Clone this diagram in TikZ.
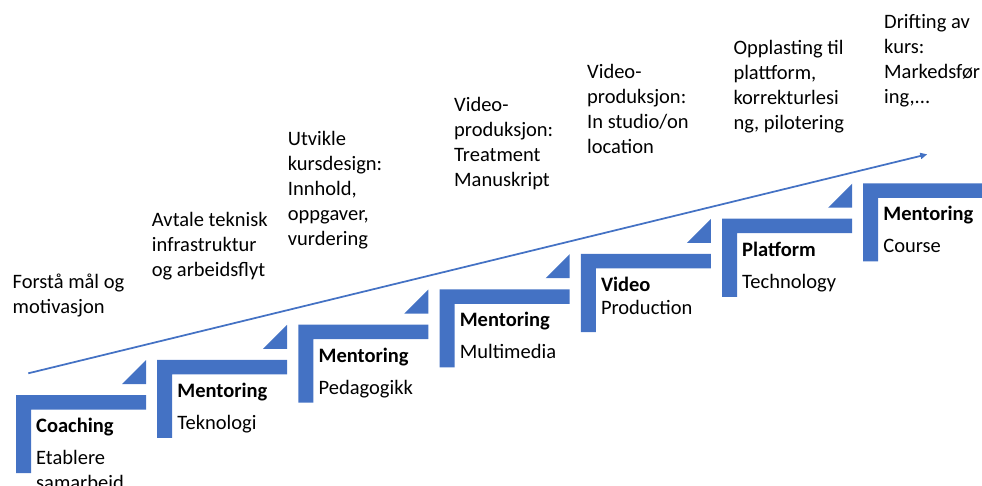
\documentclass[tikz,border=0pt]{standalone}
\usepackage{fontspec}
\setmainfont{Carlito}
\usetikzlibrary{arrows.meta}
\definecolor{stepblue}{HTML}{4472C4}
\begin{document}
\begin{tikzpicture}[x=1pt,y=-1pt,
  stepshape/.style={fill=stepblue,draw=none},
  headtxt/.style={anchor=base west,inner sep=0pt,font=\fontsize{20.5}{25}\selectfont\bfseries},
  subtxt/.style={anchor=base west,inner sep=0pt,align=left,font=\fontsize{20.5}{25}\selectfont},
  toptxt/.style={anchor=base west,inner sep=0pt,align=left,font=\fontsize{20.5}{25}\selectfont},
  flow/.style={draw=stepblue,line width=1.75pt,-{Triangle[length=7pt,width=6pt]}}]
\useasboundingbox (0,0) rectangle (982,486);
% steps
\foreach \i in {0,...,6} {
  \pgfmathsetmacro\L{16+141.2*\i}
  \pgfmathsetmacro\T{395-35.25*\i}
  \fill[stepshape] (\L,\T) -- ++(130,0) -- ++(0,14.5) -- ++(-115,0) -- ++(0,63.5) -- ++(-15,0) -- cycle;
}
\foreach \i in {0,...,5} {
  \pgfmathsetmacro\L{16+141.2*\i}
  \pgfmathsetmacro\T{395-35.25*\i}
  \fill[stepshape] (\L+130,\T-11) -- ++(-24,0) -- ++(24,-24) -- cycle;
}
% arrow
\coordinate (a0) at (28.3,373.3);
\coordinate (a1) at (927.3,154.3);
\draw[flow] (a0) -- (a1);
% step texts (base anchor = baseline of the last line)
\node[headtxt] (h1) at (36,432.5) {Coaching};
\node[subtxt] (s1) at (36,489.5) {Etablere\\samarbeid};
\node[headtxt] (h2) at (177.2,397.25) {Mentoring};
\node[subtxt] (s2) at (177.2,429.25) {Teknologi};
\node[headtxt] (h3) at (318.4,362) {Mentoring};
\node[subtxt] (s3) at (318.4,394) {Pedagogikk};
\node[headtxt] (h4) at (459.6,326.75) {Mentoring};
\node[subtxt] (s4) at (459.6,358.75) {Multimedia};
\node[headtxt] (h5) at (600.8,291.5) {Video};
\node[subtxt] (s5) at (600.8,314) {Production};
\node[headtxt] (h6) at (742,256.25) {Platform};
\node[subtxt] (s6) at (742,288.25) {Technology};
\node[headtxt] (h7) at (883.2,221) {Mentoring};
\node[subtxt] (s7) at (883.2,253) {Course};
% top texts
\node[toptxt] (t1) at (12.5,313) {Forstå mål og\\motivasjon};
\node[toptxt] (t2) at (151.7,276.7) {Avtale teknisk\\infrastruktur\\og arbeidsflyt};
\node[toptxt] (t3) at (287.7,245.5) {Utvikle\\kursdesign:\\Innhold,\\oppgaver,\\vurdering};
\node[toptxt] (t4) at (454,187) {Video-\\produksjon:\\Treatment\\Manuskript};
\node[toptxt] (t5) at (587,154) {Video-\\produksjon:\\In studio/on\\location};
\node[toptxt] (t6) at (733.3,130) {Opplasting til\\plattform,\\korrekturlesi\\ng, pilotering};
\node[toptxt] (t7) at (884,104) {Drifting av\\kurs:\\Markedsfør\\ing,...};
\end{tikzpicture}
\end{document}
